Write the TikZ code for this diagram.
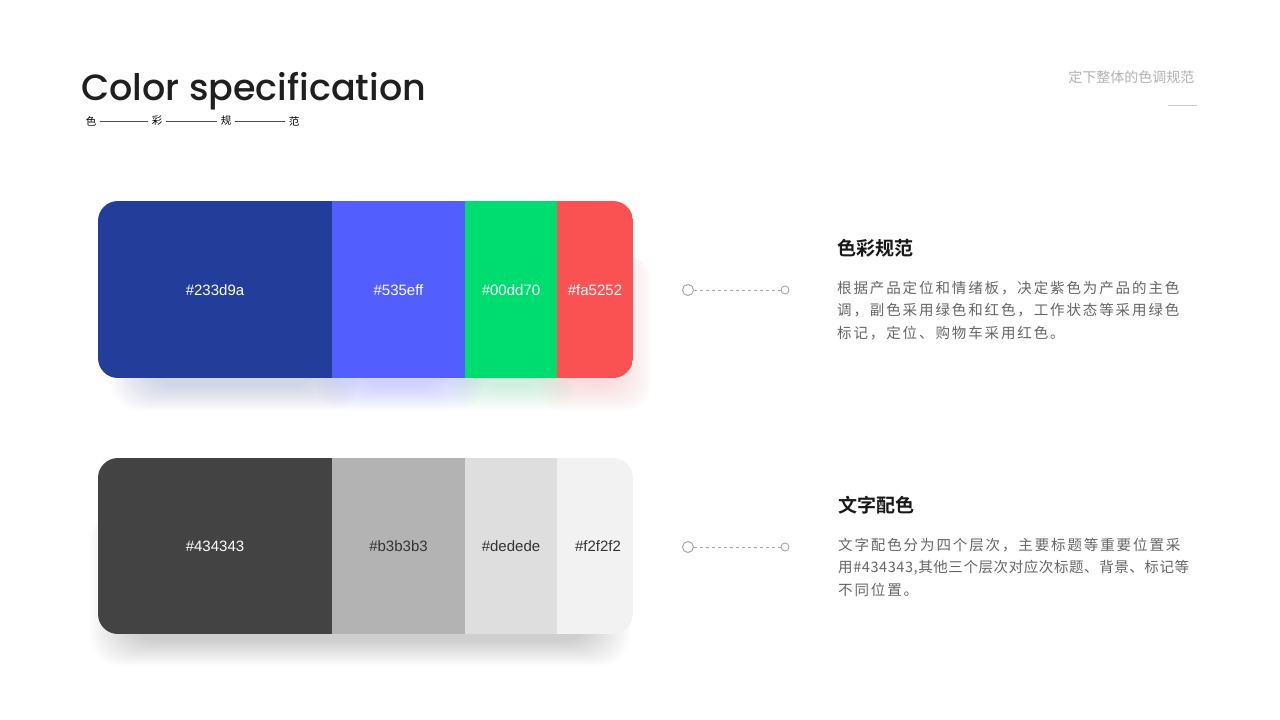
\documentclass[tikz,border=0pt]{standalone}
\usepackage{fontspec}
\setmainfont{Liberation Sans}
\newfontfamily\cjk{Noto Sans CJK SC}
\newfontfamily\cjksp{Noto Sans CJK SC}[LetterSpace=13]
\newfontfamily\cjkb{Noto Sans CJK SC}[BoldFont={Noto Sans CJK SC Bold}]
\newfontfamily\titlef{Poppins}[UprightFont={* Medium}]
\definecolor{cA}{HTML}{233D9A}\definecolor{cB}{HTML}{535EFF}
\definecolor{cC}{HTML}{00DD70}\definecolor{cD}{HTML}{FA5252}
\definecolor{gA}{HTML}{434343}\definecolor{gB}{HTML}{B3B3B3}
\definecolor{gC}{HTML}{DEDEDE}\definecolor{gD}{HTML}{F2F2F2}
\definecolor{txt}{HTML}{666666}
\begin{document}
\begin{tikzpicture}[x=1pt,y=-1pt,
  hex/.style={font=\fontsize{15}{15}\selectfont,text=white},
  hexd/.style={font=\fontsize{15}{15}\selectfont,text=black!80},
  head/.style={anchor=west,font=\cjkb\bfseries\fontsize{19}{19}\selectfont,text=black!90},
  body/.style={anchor=north west,align=left,font=\cjksp\fontsize{14.5}{22.5}\selectfont,text=txt},
  bigdot/.style={circle,draw=black!35,line width=1pt,fill=white,minimum size=11pt,inner sep=0},
  smalldot/.style={circle,draw=black!35,line width=0.9pt,fill=white,minimum size=8pt,inner sep=0},
  dashline/.style={draw=black!35,dashed,line width=0.8pt}]
\useasboundingbox (0,0) rectangle (1280,720);
\fill[white] (0,0) rectangle (1280,720);
% title
\node[anchor=base west,inner sep=0,font=\titlef\fontsize{36.5}{36.5}\selectfont,text=black!88] (title) at (81,100) {Color specification};
\begin{scope}[font=\cjk\fontsize{10.5}{10.5}\selectfont,text=black]
\node (s1) at (91,121) {色};
\node (s2) at (157,121) {彩};
\node (s3) at (226,121) {规};
\node (s4) at (294,121) {范};
\end{scope}
\draw[black!70,line width=0.6pt] (s1.east) -- (s2.west) (s2.east) -- (s3.west) (s3.east) -- (s4.west);
\node[anchor=east,font=\cjk\fontsize{14}{14}\selectfont,text=black!30] (tr) at (1198,77) {定下整体的色调规范};
\draw[black!20,line width=0.8pt] (1168,105) -- (1197,105);
% shadows
\foreach \i in {1,...,16}{
  \fill[cA,opacity=0.012,rounded corners=30pt] (150-\i*2.5,240+\i) rectangle (320+\i*2.5,385+\i*1.6);
  \fill[cB,opacity=0.016,rounded corners=30pt] (355-\i*2.5,240+\i) rectangle (445+\i*2.5,385+\i*1.6);
  \fill[cC,opacity=0.012,rounded corners=25pt] (480-\i*2,240+\i) rectangle (545+\i*2,385+\i*1.6);
  \fill[cD,opacity=0.012,rounded corners=25pt] (570-\i*2,240+\i) rectangle (620+\i*2,385+\i*1.6);
  \fill[black,opacity=0.012,rounded corners=30pt] (130-\i*2.5,495+\i) rectangle (590+\i*2.5,640+\i*1.6);
}
% row 1
\begin{scope}
\clip[rounded corners=20pt] (98,201) rectangle (633,378);
\fill[cA] (98,201) rectangle (332,378);
\fill[cB] (332,201) rectangle (465,378);
\fill[cC] (465,201) rectangle (557,378);
\fill[cD] (557,201) rectangle (633,378);
\end{scope}
\node[hex] (a1) at (215,290) {\#233d9a};
\node[hex] (a2) at (398.5,290) {\#535eff};
\node[hex] (a3) at (511,290) {\#00dd70};
\node[hex] (a4) at (595,290) {\#fa5252};
% row 2
\begin{scope}
\clip[rounded corners=20pt] (98,458) rectangle (633,634);
\fill[gA] (98,458) rectangle (332,634);
\fill[gB] (332,458) rectangle (465,634);
\fill[gC] (465,458) rectangle (557,634);
\fill[gD] (557,458) rectangle (633,634);
\end{scope}
\node[hex] (b1) at (215,546) {\#434343};
\node[hexd] (b2) at (398.5,546) {\#b3b3b3};
\node[hexd] (b3) at (511,546) {\#dedede};
\node[hexd] (b4) at (598,546) {\#f2f2f2};
% connectors
\node[bigdot] (p1) at (688,290) {};
\node[smalldot] (q1) at (785,290) {};
\draw[dashline] (p1) -- (q1);
\node[bigdot] (p2) at (688,547) {};
\node[smalldot] (q2) at (785,547) {};
\draw[dashline] (p2) -- (q2);
% texts
\node[head,inner sep=0] (h1) at (837,248) {色彩规范};
\node[body,inner sep=0] (t1) at (837,281) {根据产品定位和情绪板，决定紫色为产品的主色\\调，副色采用绿色和红色，工作状态等采用绿色\\标记，定位、购物车采用红色。};
\node[head,inner sep=0] (h2) at (838,505) {文字配色};
\node[body,inner sep=0] (t2) at (838,538) {文字配色分为四个层次，主要标题等重要位置采\\{\cjk\addfontfeatures{LetterSpace=4}用\#434343,其他三个层次对应次标题、背景、标记等}\\不同位置。};
\end{tikzpicture}
\end{document}
